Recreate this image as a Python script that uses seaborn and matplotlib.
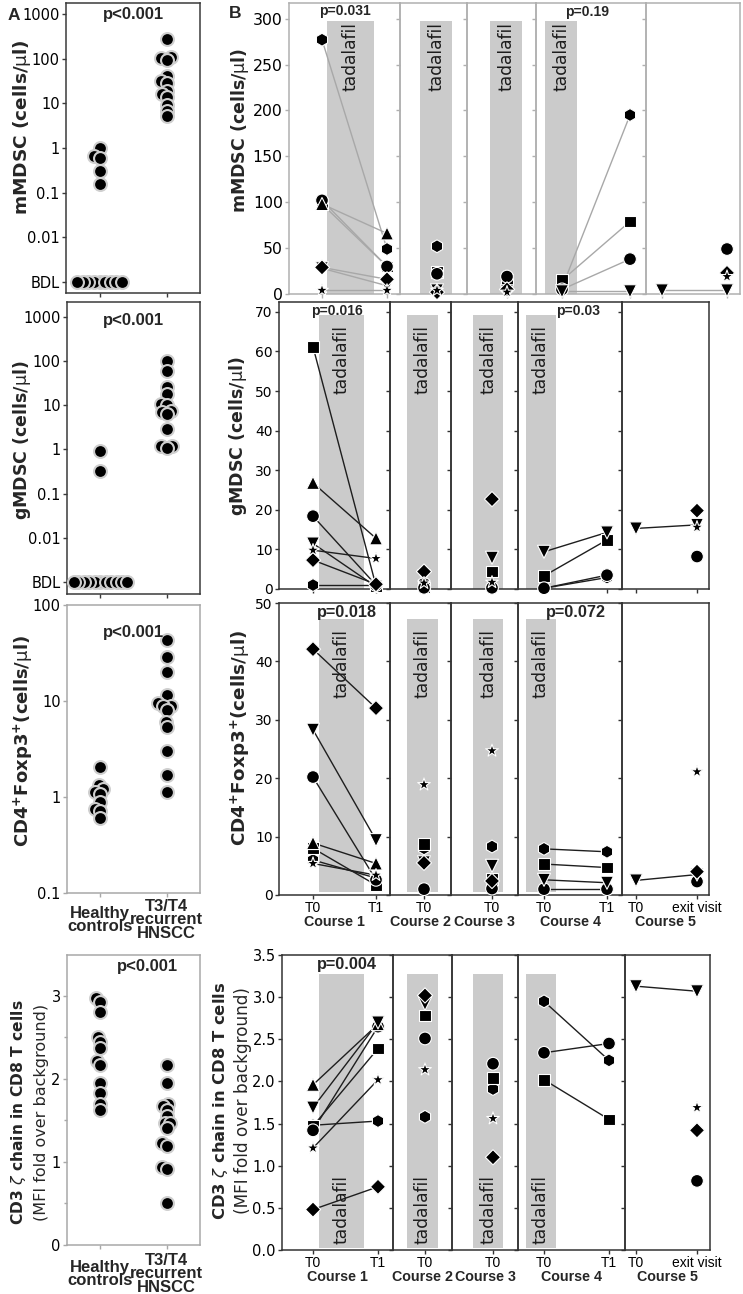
import numpy as np
import pandas as pd
import matplotlib
matplotlib.use('Agg')
import matplotlib.pyplot as plt
from matplotlib import font_manager as fm
from matplotlib.ticker import NullLocator, FixedLocator
import seaborn as sns

nan = np.nan

# ---------------------------------------------------------------- DATA
groups = ['Healthy controls', 'T3/T4 recurrent HNSCC']
group_labels = ['Healthy\ncontrols', 'T3/T4\nrecurrent\nHNSCC']
BDL = 0.001

# panel A (cross-sectional)
mmdsc_healthy = [BDL, BDL, BDL, BDL, BDL, BDL, BDL, BDL, BDL, 1.0, 0.66, 0.6, 0.31, 0.16]
mmdsc_hnscc = [278, 110, 105, 95, 40, 32, 29, 19, 16, 14, 9, 6.8, 5.1]
gmdsc_healthy = [BDL, BDL, BDL, BDL, BDL, BDL, BDL, BDL, BDL, BDL, BDL, 0.92, 0.32]
gmdsc_hnscc = [100, 60, 26, 18, 10.5, 10, 7.5, 7, 6.4, 2.9, 1.2, 1.2, 1.1]
treg_healthy = [2.06, 1.33, 1.2, 1.13, 1.07, 0.89, 0.75, 0.72, 0.61]
treg_hnscc = [42.9, 28.7, 20.1, 11.5, 9.5, 8.8, 8.8, 8.1, 6.0, 5.3, 3.0, 1.7, 1.13]
zeta_healthy = [2.97, 2.93, 2.81, 2.50, 2.44, 2.37, 2.22, 2.17, 1.95, 1.83, 1.70, 1.63]
zeta_hnscc = [2.17, 1.95, 1.70, 1.67, 1.62, 1.55, 1.47, 1.47, 1.41, 1.23, 1.19, 0.94, 0.91, 0.50]

# panel B (longitudinal), patient order:
patients = ['hexagon', 'square', 'circle', 'triangle_up', 'triangle_down', 'diamond', 'star']
course_names = ['Course 1', 'Course 2', 'Course 3', 'Course 4', 'Course 5']
course_times = [['T0', 'T1'], ['T0'], ['T0'], ['T0', 'T1'], ['T0', 'exit visit']]

mmdsc_c1_t0 = [277, 98, 102, 98, 28, 29, 4]
mmdsc_c1_t1 = [49, 30, 30, 66, 9, 16, 4]
mmdsc_c2_t0 = [52, 24, 22, nan, 4, 2, 4]
mmdsc_c3_t0 = [10, 16, 19, nan, 3, 5, 2]
mmdsc_c4_t0 = [7, 15, 5, nan, 3, nan, nan]
mmdsc_c4_t1 = [195, 79, 38, nan, 3, nan, nan]
mmdsc_c5_t0 = [nan, nan, nan, nan, 4, nan, nan]
mmdsc_c5_exit = [nan, nan, 49, nan, 4, 23, 19]

gmdsc_c1_t0 = [1.0, 61.2, 18.4, 26.8, 11.5, 7.3, 9.8]
gmdsc_c1_t1 = [1.0, 0.8, 1.0, 12.8, 0.6, 1.2, 7.7]
gmdsc_c2_t0 = [1.5, 0.4, 0.3, nan, 3.2, 4.4, 1.5]
gmdsc_c3_t0 = [0.3, 4.4, 0.3, nan, 7.9, 22.7, 1.7]
gmdsc_c4_t0 = [0.2, 3.3, 0.2, nan, 9.4, nan, nan]
gmdsc_c4_t1 = [2.9, 12.4, 3.5, nan, 14.3, nan, nan]
gmdsc_c5_t0 = [nan, nan, nan, nan, 15.3, nan, nan]
gmdsc_c5_exit = [nan, nan, 8.2, nan, 16.2, 19.8, 15.6]

treg_c1_t0 = [6.0, 8.0, 20.2, 8.9, 28.3, 42.1, 5.4]
treg_c1_t1 = [2.9, 1.7, 2.6, 5.4, 9.4, 32.0, 3.4]
treg_c2_t0 = [8.0, 8.7, 1.0, nan, 5.6, 5.5, 18.9]
treg_c3_t0 = [8.3, 2.7, 1.1, nan, 5.0, 2.4, 24.7]
treg_c4_t0 = [7.9, 5.3, 1.0, nan, 2.6, nan, nan]
treg_c4_t1 = [7.4, 4.7, 1.0, nan, 2.1, nan, nan]
treg_c5_t0 = [nan, nan, nan, nan, 2.5, nan, nan]
treg_c5_exit = [nan, nan, 2.3, nan, 3.5, 4.0, 21.1]

zeta_c1_t0 = [1.48, 1.47, 1.42, 1.96, 1.69, 0.48, 1.21]
zeta_c1_t1 = [1.53, 2.39, 2.65, 2.68, 2.70, 0.75, 2.02]
zeta_c2_t0 = [1.58, 2.78, 2.51, nan, 2.92, 3.02, 2.14]
zeta_c3_t0 = [1.91, 2.04, 2.21, nan, nan, 1.10, 1.56]
zeta_c4_t0 = [2.95, 2.02, 2.34, nan, nan, nan, nan]
zeta_c4_t1 = [2.25, 1.55, 2.45, nan, nan, nan, nan]
zeta_c5_t0 = [nan, nan, nan, nan, 3.13, nan, nan]
zeta_c5_exit = [nan, nan, 0.82, nan, 3.07, 1.42, 1.69]

mmdsc_courses = [[mmdsc_c1_t0, mmdsc_c1_t1], [mmdsc_c2_t0], [mmdsc_c3_t0],
                 [mmdsc_c4_t0, mmdsc_c4_t1], [mmdsc_c5_t0, mmdsc_c5_exit]]
gmdsc_courses = [[gmdsc_c1_t0, gmdsc_c1_t1], [gmdsc_c2_t0], [gmdsc_c3_t0],
                 [gmdsc_c4_t0, gmdsc_c4_t1], [gmdsc_c5_t0, gmdsc_c5_exit]]
treg_courses = [[treg_c1_t0, treg_c1_t1], [treg_c2_t0], [treg_c3_t0],
                [treg_c4_t0, treg_c4_t1], [treg_c5_t0, treg_c5_exit]]
zeta_courses = [[zeta_c1_t0, zeta_c1_t1], [zeta_c2_t0], [zeta_c3_t0],
                [zeta_c4_t0, zeta_c4_t1], [zeta_c5_t0, zeta_c5_exit]]

# ---------------------------------------------------------------- STYLE
sns.set_theme(style='ticks', rc={'axes.linewidth': 1.0, 'xtick.major.width': 1.0,
                                 'ytick.major.width': 1.0, 'xtick.major.size': 3,
                                 'ytick.major.size': 3, 'figure.facecolor': 'white'})
plt.rcParams['font.family'] = ['DejaVu Sans']
plt.rcParams['mathtext.fontset'] = 'dejavusans'

NAMES = {f.name for f in fm.fontManager.ttflist}
SANS = 'Liberation Sans' if 'Liberation Sans' in NAMES else 'DejaVu Sans'
if 'Liberation Sans Narrow' in NAMES:
    NARROW, T_SIZE, C_SIZE = 'Liberation Sans Narrow', 11.5, 12
else:
    NARROW, T_SIZE, C_SIZE = SANS, 10, 10.3

marker_map = {'hexagon': 'h', 'square': 's', 'circle': 'o', 'triangle_up': '^',
              'triangle_down': 'v', 'diamond': 'D', 'star': '*'}
size_map = {'hexagon': 86, 'square': 70, 'circle': 84, 'triangle_up': 88,
            'triangle_down': 88, 'diamond': 60, 'star': 90}

W, H = 743, 1294
fig = plt.figure(figsize=(W / 100, H / 100), dpi=100)


def rect(l, t, r, b):
    return [l / W, 1 - b / H, (r - l) / W, (b - t) / H]


def ftext(x, y, s, **kw):
    fig.text(x / W, 1 - y / H, s, **kw)


swarm_cols = []

# ---------------------------------------------------------------- PANEL A
a_specs = [
    dict(h=mmdsc_healthy, c=mmdsc_hnscc, box=(66, 3, 200, 293), log=True, ylim=(0.000567, 1763),
         yt=[BDL, 0.01, 0.1, 1, 10, 100, 1000], ytl=['BDL', '0.01', '0.1', '1', '10', '100', '1000'],
         minor=None, spine='#3a3a3a', xl=False, p=(134, 15)),
    dict(h=gmdsc_healthy, c=gmdsc_hnscc, box=(67, 302, 200, 594), log=True, ylim=(0.000535, 2183),
         yt=[BDL, 0.01, 0.1, 1, 10, 100, 1000], ytl=['BDL', '0.01', '0.1', '1', '10', '100', '1000'],
         minor=None, spine='#3a3a3a', xl=False, p=(134, 320)),
    dict(h=treg_healthy, c=treg_hnscc, box=(67, 605, 200, 893), log=True, ylim=(0.1, 100),
         yt=[0.1, 1, 10, 100], ytl=['0.1', '1', '10', '100'],
         minor=None, spine='#a8a8a8', xl=True, xl_off=27, p=(134, 632)),
    dict(h=zeta_healthy, c=zeta_hnscc, box=(67, 955, 200, 1245), log=False, ylim=(0, 3.49),
         yt=[0, 1, 2, 3], ytl=['0', '1', '2', '3'],
         minor=[0.5, 1.5, 2.5], spine='#a8a8a8', xl=True, xl_off=29, p=(147, 967)),
]

for sp in a_specs:
    ax = fig.add_axes(rect(*sp['box']))
    if sp['log']:
        ax.set_yscale('log')
    ax.set_ylim(*sp['ylim'])
    df = pd.DataFrame({'group': [groups[0]] * len(sp['h']) + [groups[1]] * len(sp['c']),
                       'value': list(sp['h']) + list(sp['c'])})
    n0 = len(ax.collections)
    sns.swarmplot(data=df, x='group', y='value', order=groups, color='black',
                  edgecolor='#cfcfcf', linewidth=0.6, size=3.2, warn_thresh=1.0,
                  ax=ax, clip_on=False, zorder=3)
    swarm_cols.extend(ax.collections[n0:])
    ax.set_xlim(-0.5, 1.5)
    ax.set_ylim(*sp['ylim'])
    ax.set_xlabel('')
    ax.set_ylabel('')
    ax.set_xticks([0, 1])
    ax.set_xticklabels([])
    ax.yaxis.set_major_locator(FixedLocator(sp['yt']))
    ax.set_yticklabels(sp['ytl'], fontsize=10.5)
    if sp['minor'] is not None:
        ax.yaxis.set_minor_locator(FixedLocator(sp['minor']))
        ax.tick_params(axis='y', which='minor', length=2.5, width=1, color=sp['spine'])
    else:
        ax.yaxis.set_minor_locator(NullLocator())
    for s in ax.spines.values():
        s.set_color(sp['spine'])
        s.set_linewidth(1.1)
    ax.tick_params(axis='both', which='major', length=3, width=1, color=sp['spine'],
                   pad=1.5, labelcolor='black')
    if sp['xl']:
        hgt = sp['box'][3] - sp['box'][1]
        for i, lab in enumerate(group_labels):
            ax.text(i, -sp['xl_off'] / hgt, lab, transform=ax.get_xaxis_transform(),
                    ha='center', va='center', fontsize=12, fontweight='bold',
                    family=SANS, linespacing=0.88)
    ftext(sp['p'][0], sp['p'][1], 'p<0.001', ha='center', va='center',
          fontsize=12, fontweight='bold', family=SANS)

# A y-labels
ftext(22, 127, 'mMDSC (cells/$\\mathrm{\\mu}$l)', rotation=90, ha='center', va='center',
      fontsize=13.3, fontweight='bold')
ftext(22, 440, 'gMDSC (cells/$\\mathrm{\\mu}$l)', rotation=90, ha='center', va='center',
      fontsize=12.5, fontweight='bold')
ftext(23, 741, 'CD4$^{\\mathbf{+}}$Foxp3$^{\\mathbf{+}}$(cells/$\\mathrm{\\mu}$l)', rotation=90,
      ha='center', va='center', fontsize=13, fontweight='bold')
ftext(19, 1112, 'CD3 $\\zeta$ chain in CD8 T cells', rotation=90, ha='center', va='center',
      fontsize=11.2, fontweight='bold')
ftext(42, 1112, '(MFI fold over background)', rotation=90, ha='center', va='center',
      fontsize=11.5)

# ---------------------------------------------------------------- PANEL B
geom_mid = dict(edges=[279, 390, 451, 518, 622, 709],
                pos=[[313, 376], [424], [492], [544, 607], [636, 697]],
                bands=[(319, 364), (407, 438), (473, 503), (526, 556)])
b_specs = [
    dict(data=mmdsc_courses,
         geom=dict(edges=[289, 400, 467, 536, 646, 740],
                   pos=[[322, 387], [437], [507], [562, 630], [662, 727]],
                   bands=[(327, 374), (420, 452), (490, 522), (545, 577)]),
         top=3, bottom=294, ylim=(0, 317), yt=[0, 50, 100, 150, 200, 250, 300], fmt='{:.0f}',
         tsize=11.3, band=(0, 297), tad=('top', 296), line='#a8a8a8', spine='#b0b0b0',
         xl=False, pv=[('p=0.031', 345, 11), ('p=0.19', 587, 12)], psize=10),
    dict(data=gmdsc_courses, geom=geom_mid, top=302, bottom=589, ylim=(0, 72.5),
         yt=[0, 10, 20, 30, 40, 50, 60, 70], fmt='{:.0f}', tsize=10,
         band=(0, 69.2), tad=('top', 66.7), line='#1e1e1e', spine='#333333',
         xl=False, pv=[('p=0.016', 337, 311), ('p=0.03', 578, 311)], psize=10),
    dict(data=treg_courses, geom=geom_mid, top=603, bottom=895, ylim=(0, 50),
         yt=[0, 10, 20, 30, 40, 50], fmt='{:.0f}', tsize=10,
         band=(0.45, 47.2), tad=('top', 45.5), line='#1e1e1e', spine='#333333',
         xl=True, pv=[('p=0.018', 347, 613), ('p=0.072', 576, 613)], psize=11.7),
    dict(data=zeta_courses,
         geom=dict(edges=[282, 393, 452, 518, 625, 710],
                   pos=[[313, 378], [425], [493], [544, 609], [636, 697]],
                   bands=[(319, 364), (407, 438), (473, 503), (526, 556)]),
         top=955, bottom=1250, ylim=(0, 3.5), yt=[0, 0.5, 1, 1.5, 2, 2.5, 3, 3.5], fmt='{:.1f}',
         tsize=10.5, band=(0.02, 3.27), tad=('bottom', 0.07), line='#1e1e1e', spine='#333333',
         xl=True, pv=[('p=0.004', 347, 965)], psize=11.7),
]

for sp in b_specs:
    g = sp['geom']
    ytop = sp['ylim'][1]
    for ci in range(5):
        x0, x1 = g['edges'][ci], g['edges'][ci + 1]
        ax = fig.add_axes(rect(x0, sp['top'], x1, sp['bottom']))
        ax.set_facecolor('none')
        ax.set_xlim(x0, x1)
        ax.set_ylim(*sp['ylim'])
        if ci < 4:
            b0, b1 = g['bands'][ci]
            ax.axvspan(b0, b1, ymin=sp['band'][0] / ytop, ymax=sp['band'][1] / ytop,
                       color='#cbcbcb', lw=0, zorder=0)
            ax.text((b0 + b1) / 2, sp['tad'][1], 'tadalafil', rotation=90, ha='center',
                    va=sp['tad'][0], fontsize=12.3, color='#1c1c1c', zorder=1)
        rec = []
        for ti, vals in enumerate(sp['data'][ci]):
            for p, v in zip(patients, vals):
                if not np.isnan(v):
                    rec.append((p, g['pos'][ci][ti], v))
        df = pd.DataFrame(rec, columns=['patient', 'x', 'value'])
        if len(sp['data'][ci]) == 2:
            sns.lineplot(data=df, x='x', y='value', units='patient', estimator=None,
                         color=sp['line'], lw=1.0, ax=ax, legend=False, zorder=2, sort=True)
        sns.scatterplot(data=df, x='x', y='value', style='patient', markers=marker_map,
                        style_order=patients, size='patient', sizes=size_map,
                        size_order=patients, color='black', edgecolor='white',
                        linewidth=0.8, legend=False, ax=ax, clip_on=False, zorder=3)
        ax.set_xlim(x0, x1)
        ax.set_ylim(*sp['ylim'])
        ax.set_ylabel('')
        ax.set_xticks(g['pos'][ci])
        if sp['xl']:
            ax.set_xticklabels(course_times[ci], fontsize=T_SIZE, family=NARROW)
            ax.set_xlabel(course_names[ci], fontsize=C_SIZE, fontweight='bold',
                          family=NARROW, labelpad=0)
        else:
            ax.set_xticklabels([])
            ax.set_xlabel('')
        ax.set_yticks(sp['yt'])
        if ci == 0:
            ax.set_yticklabels([sp['fmt'].format(v) for v in sp['yt']], fontsize=sp['tsize'])
        else:
            ax.set_yticklabels([])
        for s in ax.spines.values():
            s.set_color(sp['spine'])
            s.set_linewidth(1.1)
        ax.tick_params(axis='both', length=3, width=1, color=sp['spine'], pad=1.5,
                       labelcolor='black')
    for txt, px, py in sp['pv']:
        ftext(px, py, txt, ha='center', va='center', fontsize=sp['psize'],
              fontweight='bold', family=SANS)

# B y-labels
ftext(240, 130, 'mMDSC (cells/$\\mathrm{\\mu}$l)', rotation=90, ha='center', va='center',
      fontsize=12.5, fontweight='bold')
ftext(238, 436, 'gMDSC (cells/$\\mathrm{\\mu}$l)', rotation=90, ha='center', va='center',
      fontsize=12.5, fontweight='bold')
ftext(240, 738, 'CD4$^{\\mathbf{+}}$Foxp3$^{\\mathbf{+}}$(cells/$\\mathrm{\\mu}$l)', rotation=90,
      ha='center', va='center', fontsize=13.2, fontweight='bold')
ftext(221, 1101, 'CD3 $\\zeta$ chain in CD8 T cells', rotation=90, ha='center', va='center',
      fontsize=11.8, fontweight='bold')
ftext(243, 1101, '(MFI fold over background)', rotation=90, ha='center', va='center',
      fontsize=12.2)

# panel letters
ftext(14, 15, 'A', ha='center', va='center', fontsize=12.5, fontweight='bold', family=SANS)
ftext(235, 14, 'B', ha='center', va='center', fontsize=12.5, fontweight='bold', family=SANS)

# compute swarm layout with compact spacing, then show the markers larger (overlapping)
fig.canvas.draw()
for c in swarm_cols:
    c.__dict__.pop('draw', None)
    c.set_sizes([86])
    c.set_linewidth(1.5)

fig.savefig('out.png', dpi=100, facecolor='white')
